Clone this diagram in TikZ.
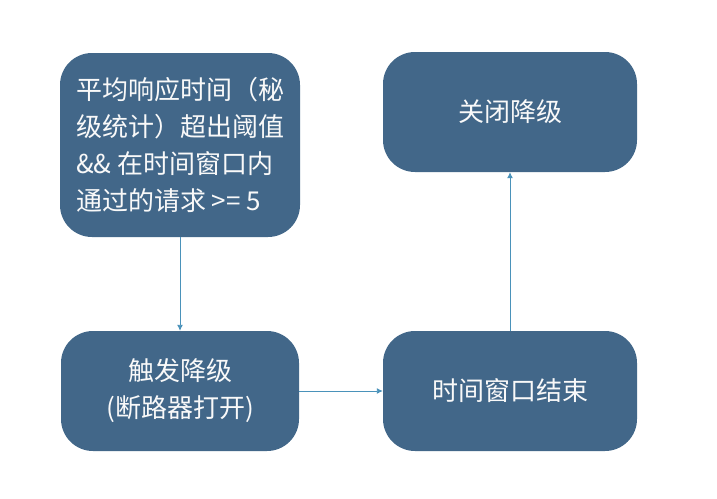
\documentclass[tikz,border=0pt]{standalone}
\usepackage{fontspec}
\setmainfont{Noto Sans CJK SC}
\usepackage{tikz}
\usetikzlibrary{arrows.meta}
\definecolor{boxblue}{RGB}{66,103,137}
\definecolor{linkblue}{RGB}{74,146,186}
\tikzset{stbox/.style={rectangle, rounded corners=32pt, fill=boxblue, text=white!95!gray,
                       font=\fontsize{26}{37}\selectfont, inner sep=0pt},
         link/.style={draw=linkblue, line width=0.9pt, -{Latex[length=6pt,width=6pt]}}}

\begin{document}
\begin{tikzpicture}[x=1pt, y=-1pt]

  \useasboundingbox (0,0) rectangle (717,498);

  % ---------- the four states ----------
  \node[stbox, minimum width=240pt, minimum height=184pt, align=left] (cond) at (180,145)
        {平均响应时间（秘\\级统计）超出阈值\\\&\& 在时间窗口内\\通过的请求 >= 5};
  \node[stbox, minimum width=254pt, minimum height=120pt] (close) at (510,112) {关闭降级};
  \node[stbox, minimum width=238pt, minimum height=120pt, align=center] (trigger) at (180,391)
        {触发降级\\(断路器打开)};
  \node[stbox, minimum width=254pt, minimum height=120pt] (winend) at (510,391) {时间窗口结束};

  % ---------- transitions ----------
  \draw[link] (cond.south) -- (trigger.north);
  \draw[link] (trigger.east) -- (winend.west);
  \draw[link] (winend.north) -- (close.south);

\end{tikzpicture}
\end{document}
